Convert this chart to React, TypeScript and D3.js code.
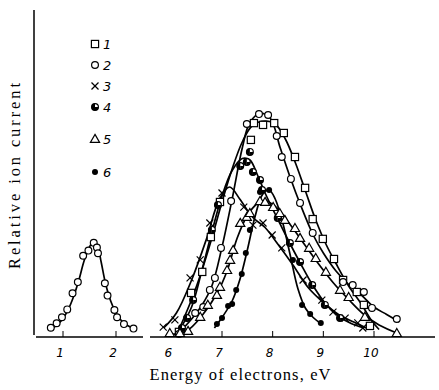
import React from "react";
import * as d3 from "d3";

// ---------- data (energy in eV, relative ion current in arbitrary units) ----------
const seriesLabels = ["1", "2", "3", "4", "5", "6"];
const seriesMarkers = ["square", "circle", "cross", "half", "triangle", "dot"];
const xTicksLeft = [1, 2];
const xTicksRight = [7, 8, 9, 10];
const xLabelsLeft = ["1", "2"];
const xLabelsRight = ["6", "7", "8", "9", "10"];
const xLabelValuesRight = [6, 7, 8, 9, 10];
const xTitle = "Energy of electrons, eV";
const yTitle = "Relative ion current";

const lowPoints: [number, number][] = [
  [0.77, 3.1], [0.88, 4.6], [0.98, 6.6], [1.08, 9.2], [1.18, 14.6], [1.28, 18.3],
  [1.38, 27.1], [1.48, 28.8], [1.58, 31.4], [1.64, 29.8], [1.66, 27.9], [1.79, 17.9],
  [1.84, 13.8], [1.97, 9], [2.02, 6.6], [2.15, 4.3], [2.33, 2.8],
];
const lowCurve: [number, number][] = [
  [0.78, 2.6], [0.9, 4.2], [1.0, 6.2], [1.1, 9.2], [1.2, 13.5], [1.3, 19], [1.4, 25.5],
  [1.5, 30], [1.58, 32], [1.65, 30.5], [1.72, 25], [1.8, 18], [1.9, 12], [2.0, 8],
  [2.1, 5.5], [2.2, 4], [2.35, 2.8],
];

const s1Points: [number, number][] = [
  [6.15, 1.7], [6.39, 14.7], [6.61, 21.7], [6.78, 33.3], [6.96, 45], [7.57, 65.7],
  [7.63, 71.3], [7.81, 70.7], [8.03, 71.3], [8.22, 68], [8.44, 60], [8.64, 49.7],
  [8.79, 39.3], [8.99, 32.7], [9.21, 26], [9.39, 19], [9.66, 15], [9.8, 10.7], [9.92, 3.7],
];
const s1Curve: [number, number][] = [
  [6.1, 0.5], [6.4, 12.5], [6.6, 22], [6.8, 33], [7.0, 45], [7.2, 56], [7.4, 65],
  [7.6, 70.5], [7.85, 72], [8.05, 71], [8.25, 66], [8.45, 58], [8.65, 48.5], [8.85, 39],
  [9.05, 31], [9.25, 24.5], [9.5, 17], [9.75, 11], [9.95, 5.5], [10.1, 2.5],
];

const s2Points: [number, number][] = [
  [6.15, 1], [6.47, 8], [6.63, 10], [6.76, 15.7], [6.86, 19.7], [6.98, 29.7], [7.18, 45.3],
  [7.49, 71], [7.73, 74.3], [7.91, 74], [8.08, 67], [8.18, 60], [8.36, 52.7], [8.54, 44.7],
  [8.79, 34.7], [9.39, 18.3], [9.58, 17.3], [9.8, 15], [9.96, 9.7], [10.45, 6],
];
const s2Curve: [number, number][] = [
  [6.1, 0.5], [6.4, 6], [6.6, 10.5], [6.8, 17], [7.0, 30], [7.2, 46], [7.4, 63],
  [7.55, 71.5], [7.75, 74.5], [7.95, 73], [8.15, 63], [8.35, 53], [8.55, 44], [8.8, 34],
  [9.0, 28], [9.25, 22], [9.5, 17.5], [9.75, 14], [10.0, 10], [10.25, 7.5], [10.5, 5],
];

const s3Points: [number, number][] = [
  [5.84, 3.3], [6.07, 5.7], [6.37, 19.7], [6.57, 25.7], [6.76, 38], [7.0, 48],
  [7.43, 43.3], [7.61, 37.3], [7.81, 38], [7.99, 34], [8.18, 29.7], [8.6, 19],
  [8.97, 12.3], [9.19, 8.3], [9.43, 6.3], [9.68, 4.7], [9.78, 3],
];
const s3Curve: [number, number][] = [
  [5.85, 3], [6.1, 8], [6.4, 19], [6.7, 33], [6.95, 46], [7.15, 50], [7.35, 46],
  [7.6, 40], [7.85, 36.5], [8.1, 31], [8.4, 24], [8.7, 16.5], [9.0, 11.5], [9.3, 7.5],
  [9.6, 5], [9.85, 3],
];

const s4Points: [number, number][] = [
  [6.21, 3], [6.31, 6.3], [6.43, 12.3], [6.8, 35.7], [6.92, 44], [7.36, 57], [7.49, 58.3],
  [7.55, 61.7], [7.61, 55], [7.75, 52.3], [7.79, 49], [8.1, 39.7], [8.34, 31.3],
  [8.54, 25], [8.78, 17.3], [9.03, 10.7], [9.33, 6.3],
];
const s4Curve: [number, number][] = [
  [6.15, 2], [6.4, 10], [6.6, 22], [6.8, 35], [7.0, 47], [7.2, 55.5], [7.4, 59.5],
  [7.55, 59], [7.7, 54], [7.85, 48], [8.05, 41], [8.3, 32.5], [8.55, 24.5], [8.8, 17],
  [9.05, 11], [9.3, 7], [9.55, 4.5], [9.8, 3],
];

const s5Points: [number, number][] = [
  [5.97, 1.3], [6.17, 1.3], [6.33, 2], [6.57, 6.7], [6.72, 10.7], [6.9, 14], [6.96, 16.7],
  [7.1, 22.3], [7.16, 25.7], [7.22, 29], [7.36, 38], [7.49, 40], [7.55, 41.3], [7.75, 45.3],
  [7.85, 45], [8.01, 43.3], [8.14, 41.3], [8.24, 39], [8.44, 36.3], [8.54, 33], [8.72, 29.7],
  [8.85, 26.3], [9.05, 21.7], [9.33, 15.7], [9.5, 13.3], [9.82, 6.7], [10.45, 1.3],
];
const s5Curve: [number, number][] = [
  [5.95, 0.8], [6.3, 2], [6.6, 7], [6.9, 14.5], [7.1, 22], [7.3, 33], [7.5, 40.5],
  [7.7, 44.5], [7.85, 45.5], [8.05, 43.5], [8.3, 38.5], [8.6, 31.5], [8.9, 24.5],
  [9.2, 18], [9.5, 12.5], [9.8, 7.5], [10.1, 4], [10.5, 1],
];

const s6Points: [number, number][] = [
  [6.9, 4.3], [7.0, 6.3], [7.12, 10.3], [7.2, 11], [7.28, 15.7], [7.39, 21], [7.47, 28],
  [7.55, 35.7], [7.75, 48.3], [7.93, 49], [8.4, 25.7], [8.58, 10.7], [8.74, 7.7], [8.95, 4.7],
];
const s6Curve: [number, number][] = [
  [6.85, 3], [7.0, 6.5], [7.2, 12], [7.35, 19], [7.5, 29], [7.65, 40], [7.8, 47.5],
  [7.93, 49], [8.05, 46], [8.2, 38], [8.35, 27], [8.5, 16], [8.65, 9.5], [8.8, 6.5],
  [8.95, 4.5],
];

const rightPoints = [s1Points, s2Points, s3Points, s4Points, s5Points, s6Points];
const rightCurves = [s1Curve, s2Curve, s3Curve, s4Curve, s5Curve, s6Curve];

// ---------- layout ----------
const W = 439;
const H = 390;
const baseY = 337;
const legendRows = [44, 65, 86, 107, 139, 172];

function Marker({ type, x, y }: { type: string; x: number; y: number }) {
  const sw = 1.2;
  if (type === "square")
    return <rect x={x - 3.6} y={y - 3.6} width={7.2} height={7.2} fill="#fff" stroke="#000" strokeWidth={sw} />;
  if (type === "circle") return <circle cx={x} cy={y} r={3.4} fill="#fff" stroke="#000" strokeWidth={sw} />;
  if (type === "cross")
    return (
      <g stroke="#000" strokeWidth={1.2}>
        <line x1={x - 3.5} y1={y - 3.5} x2={x + 3.5} y2={y + 3.5} />
        <line x1={x - 3.5} y1={y + 3.5} x2={x + 3.5} y2={y - 3.5} />
      </g>
    );
  if (type === "half")
    return (
      <g>
        <circle cx={x} cy={y} r={3.4} fill="#fff" stroke="#000" strokeWidth={sw} />
        <path d={`M${x},${y - 3.4} A3.4,3.4 0 0,0 ${x},${y + 3.4} Z`} fill="#000" />
        <path d={`M${x},${y} L${x + 3.4},${y} A3.4,3.4 0 0,1 ${x},${y + 3.4} Z`} fill="#000" />
      </g>
    );
  if (type === "triangle")
    return (
      <path
        d={`M${x},${y - 4.6} L${x + 4.6},${y + 3.4} L${x - 4.6},${y + 3.4} Z`}
        fill="#fff"
        stroke="#000"
        strokeWidth={sw}
      />
    );
  return <circle cx={x} cy={y} r={3} fill="#000" />;
}

export default function App() {
  const y = d3.scaleLinear().domain([0, 100]).range([baseY, 37]);
  const xL = d3.scaleLinear().domain([1, 2]).range([63, 116]);
  const xR = d3.scaleLinear().domain([7, 10]).range([222, 374]);

  const lineL = d3
    .line<[number, number]>()
    .x((d) => xL(d[0]))
    .y((d) => y(d[1]))
    .curve(d3.curveCatmullRom.alpha(0.5));
  const lineR = d3
    .line<[number, number]>()
    .x((d) => xR(d[0]))
    .y((d) => y(d[1]))
    .curve(d3.curveCatmullRom.alpha(0.5));

  const tickFont = {
    fontFamily: "'DejaVu Sans', sans-serif",
    fontStyle: "italic" as const,
    fontSize: 12,
  };

  return (
    <svg width={W} height={H} style={{ position: "absolute", left: 0, top: 0, background: "#fff" }}>
      <rect x={0} y={0} width={W} height={H} fill="#fff" />
      {/* axes */}
      <line x1={34} y1={10} x2={34} y2={335} stroke="#000" strokeWidth={1.5} />
      <line x1={36} y1={baseY} x2={143} y2={baseY} stroke="#000" strokeWidth={1.5} />
      <line x1={150} y1={baseY} x2={435} y2={baseY} stroke="#000" strokeWidth={1.5} />
      {xTicksLeft.map((t) => (
        <line key={"tl" + t} x1={xL(t)} x2={xL(t)} y1={baseY} y2={baseY - 6} stroke="#000" strokeWidth={1} />
      ))}
      {xTicksRight.map((t) => (
        <line key={"tr" + t} x1={xR(t)} x2={xR(t)} y1={baseY} y2={baseY - 6} stroke="#000" strokeWidth={1} />
      ))}
      {xTicksLeft.map((t, i) => (
        <text key={"ll" + t} x={xL(t) - 3} y={357} textAnchor="middle" {...tickFont}>
          {xLabelsLeft[i]}
        </text>
      ))}
      {xLabelValuesRight.map((t, i) => (
        <text key={"lr" + t} x={xR(t) - 3} y={357} textAnchor="middle" {...tickFont}>
          {xLabelsRight[i]}
        </text>
      ))}
      <text
        x={240}
        y={380}
        textAnchor="middle"
        fontFamily="'Liberation Serif', serif"
        fontSize={16.5}
        textLength={181}
        lengthAdjust="spacing"
      >
        {xTitle}
      </text>
      <text
        transform={`translate(20,176) rotate(-90)`}
        textAnchor="middle"
        fontFamily="'Liberation Serif', serif"
        fontSize={16.5}
        textLength={186}
        lengthAdjust="spacing"
      >
        {yTitle}
      </text>

      {/* curves */}
      <path d={lineL(lowCurve) || ""} fill="none" stroke="#000" strokeWidth={1.7} />
      {rightCurves.map((c, i) => (
        <path key={"c" + i} d={lineR(c) || ""} fill="none" stroke="#000" strokeWidth={1.7} />
      ))}

      {/* markers */}
      {lowPoints.map((p, j) => (
        <Marker key={"lp" + j} type="circle" x={xL(p[0])} y={y(p[1])} />
      ))}
      {rightPoints.map((pts, i) =>
        pts.map((p, j) => <Marker key={`p${i}-${j}`} type={seriesMarkers[i]} x={xR(p[0])} y={y(p[1])} />)
      )}

      {/* legend */}
      {seriesLabels.map((lab, i) => (
        <g key={"lg" + i}>
          <Marker type={seriesMarkers[i]} x={95} y={legendRows[i]} />
          <text x={103} y={legendRows[i] + 5} {...tickFont} fontSize={13}>
            {lab}
          </text>
        </g>
      ))}
    </svg>
  );
}
